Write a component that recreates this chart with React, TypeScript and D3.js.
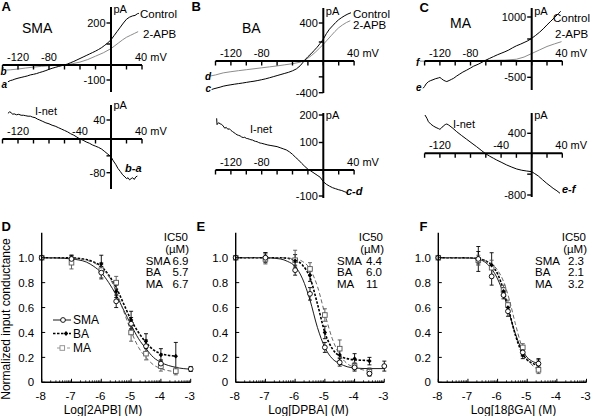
import React from 'react';
import * as d3 from 'd3';

const FONT = '"Liberation Sans", Arial, Helvetica, sans-serif';
const GRAY = '#8c8c8c';
const MAGRAY = '#555';

type P = [number, number];
type E = [number, number, number];

// ---------- I-V panels (mV, pA) ----------
const mvTicks = [-140, -120, -100, -80, -60, -40, -20, 0, 20, 40];

// A – SMA
const aControl: P[] = [[-133,-112],[-130,-104],[-127,-100],[-124,-94],[-120,-88],[-116,-83],[-112,-78],[-108,-73],[-104,-66],[-100,-62],[-96,-57],[-92,-50],[-88,-44],[-84,-37],[-80,-29],[-76,-22],[-72,-16],[-68,-10],[-64,-5],[-60,0],[-56,5],[-52,11],[-48,17],[-44,24],[-40,31],[-36,38],[-32,45],[-28,52],[-24,59],[-20,66],[-16,74],[-12,83],[-8,94],[-4,106],[0,120],[4,140],[8,160],[12,180],[16,200],[20,218],[24,228],[28,234],[31,236],[34,244],[36,246]];
const aApb: P[] = [[-135,-34],[-130,-32],[-120,-27],[-110,-20],[-100,-14],[-90,-9],[-80,-5],[-70,-2],[-60,0],[-50,6],[-40,14],[-30,26],[-20,42],[-10,58],[0,78],[5,92],[10,106],[15,120],[20,132],[25,141],[30,150],[35,159]];
const aNet: P[] = [[-133,54],[-131,57],[-129,56],[-127,52],[-125,53],[-122,51],[-119,52],[-116,50],[-113,50],[-110,49],[-107,48],[-104,48],[-101,46],[-98,45],[-95,42],[-92,40],[-88,37],[-84,34],[-80,32],[-76,29],[-72,27],[-68,24],[-64,21],[-60,18],[-56,15],[-52,11],[-48,8],[-44,4],[-40,0],[-36,-3],[-32,-7],[-28,-10],[-24,-14],[-20,-17],[-16,-20],[-12,-24],[-8,-30],[-4,-36],[0,-42],[3,-52],[6,-60],[9,-70],[12,-77],[15,-85],[18,-90],[20,-94],[22,-92],[24,-97],[26,-94],[28,-92],[30,-96],[32,-90],[34,-88]];

// B – BA
const bControl: P[] = [[-145,-360],[-142,-350],[-138,-340],[-134,-330],[-130,-318],[-125,-308],[-120,-300],[-115,-292],[-110,-285],[-105,-278],[-100,-270],[-95,-262],[-90,-255],[-85,-246],[-80,-236],[-75,-225],[-70,-212],[-65,-198],[-60,-184],[-55,-170],[-50,-156],[-45,-142],[-40,-124],[-35,-100],[-30,-60],[-27,-25],[-24,10],[-20,45],[-16,75],[-12,110],[-8,145],[-4,186],[0,230],[4,288],[8,335],[12,370],[16,405],[20,435],[24,458],[28,478],[32,495],[36,508]];
const bApb: P[] = [[-147,-190],[-140,-176],[-130,-150],[-120,-135],[-110,-122],[-100,-110],[-90,-98],[-80,-86],[-70,-74],[-60,-62],[-50,-48],[-40,-34],[-30,-15],[-24,8],[-20,30],[-15,60],[-10,95],[-5,135],[0,175],[5,220],[10,265],[15,310],[20,350],[25,380],[30,405],[35,424]];
const bNet: P[] = [[-138.5,188],[-138,165],[-136,172],[-134,168],[-132,166],[-130,160],[-128,152],[-126,155],[-124,148],[-122,150],[-120,144],[-118,140],[-116,136],[-114,132],[-112,128],[-110,126],[-108,124],[-106,120],[-104,118],[-102,119],[-100,115],[-98,114],[-96,112],[-94,110],[-92,109],[-90,106],[-88,104],[-86,103],[-84,100],[-82,98],[-80,97],[-76,94],[-72,91],[-68,89],[-64,87],[-60,85],[-56,81],[-52,77],[-48,73],[-44,66],[-40,57],[-36,46],[-32,36],[-28,24],[-24,13],[-20,3],[-16,-4],[-12,-12],[-8,-20],[-4,-28],[0,-45],[4,-55],[8,-62],[12,-68],[16,-72],[20,-76],[24,-79],[28,-84],[30,-86],[32,-94]];

// C – MA
const cControl: P[] = [[-142,-837],[-140,-780],[-138,-700],[-135,-635],[-132,-600],[-129,-575],[-126,-545],[-122,-520],[-120,-505],[-118,-540],[-115.6,-585],[-113,-615],[-111,-630],[-108,-600],[-105,-565],[-102,-530],[-98,-460],[-94,-400],[-90,-340],[-85,-280],[-80,-215],[-76,-160],[-70,-100],[-65,-40],[-61,10],[-55,60],[-50,100],[-45,140],[-40,175],[-35,210],[-30,250],[-25,300],[-20,345],[-15,380],[-10,420],[-5,460],[0,515],[5,580],[10,650],[15,730],[20,820],[25,905],[30,990],[35,1080],[38,1130]];
const cApb: P[] = [[-146,-5],[-130,0],[-110,3],[-90,6],[-70,10],[-50,15],[-35,20],[-20,40],[-10,90],[0,170],[10,250],[20,330],[30,390],[39,440]];
const cNet: P[] = [[-139.5,766],[-137,700],[-135,632],[-132,585],[-128.6,546],[-125,515],[-122,495],[-120,480],[-118,505],[-115.6,546],[-113,575],[-111,586],[-109,570],[-106.8,546],[-103,500],[-98,432],[-92,360],[-85,280],[-78,200],[-72,132],[-66,60],[-61,0],[-55,-55],[-50,-95],[-45.8,-129],[-40,-170],[-32.7,-224],[-26,-265],[-19.6,-301],[-13,-325],[-6.5,-340],[0,-353],[4,-390],[8.7,-436],[14,-505],[19.6,-576],[24,-625],[28,-672],[33,-720],[37,-767]];

// ---------- dose-response panels (log M, normalized conductance, error) ----------
const yTicksDR = [0, 0.2, 0.4, 0.6, 0.8, 1.0];
const xTicksDR = [-8, -7, -6, -5, -4, -3];
const seriesNames = ['SMA', 'BA', 'MA'];

// D – 2APB
const dSmaPts: E[] = [[-8,1,0],[-7,0.99,0.03],[-6,0.88,0.05],[-5.5,0.65,0.05],[-5,0.47,0.05],[-4.5,0.29,0.05],[-4,0.15,0.03],[-3,0.107,0.02]];
const dBaPts: E[] = [[-8,1,0],[-7,1.0,0.02],[-6,0.95,0.07],[-5.5,0.73,0.05],[-5,0.5,0.07],[-4.5,0.33,0.06],[-4,0.22,0.05],[-3.5,0.21,0.11]];
const dMaPts: E[] = [[-8,1,0],[-7,0.96,0.05],[-6,0.9,0.06],[-5.5,0.8,0.05],[-5,0.4,0.07],[-4.5,0.23,0.05],[-4,0.13,0.04],[-3.5,0.09,0.03]];
const dSmaFit: P[] = [[-8,1],[-7.5,0.998],[-7,0.99],[-6.5,0.965],[-6.25,0.93],[-6,0.88],[-5.75,0.8],[-5.5,0.7],[-5.25,0.58],[-5,0.46],[-4.75,0.35],[-4.5,0.27],[-4.25,0.2],[-4,0.16],[-3.5,0.12],[-3,0.105]];
const dBaFit: P[] = [[-8,1],[-7,0.998],[-6.5,0.985],[-6.25,0.965],[-6,0.93],[-5.75,0.86],[-5.5,0.76],[-5.25,0.63],[-5,0.5],[-4.75,0.4],[-4.5,0.32],[-4.25,0.26],[-4,0.23],[-3.5,0.21]];
const dMaFit: P[] = [[-8,1],[-7,0.995],[-6.5,0.98],[-6.25,0.96],[-6,0.92],[-5.75,0.85],[-5.5,0.73],[-5.25,0.57],[-5,0.41],[-4.75,0.28],[-4.5,0.2],[-4.25,0.14],[-4,0.11],[-3.5,0.085]];
const dIC50 = ['6.9', '5.7', '6.7'];

// E – DPBA
const eSmaPts: E[] = [[-8,1,0],[-7,1.0,0.04],[-6,0.9,0.04],[-5.5,0.71,0.05],[-5,0.28,0.04],[-4.5,0.16,0.03],[-4,0.12,0.03],[-3.5,0.07,0.02],[-3,0.13,0.04]];
const eBaPts: E[] = [[-8,1,0],[-7,1.01,0.03],[-6,0.975,0.05],[-5.5,0.86,0.05],[-5,0.4,0.05],[-4.5,0.22,0.05],[-4,0.19,0.04],[-3.5,0.17,0.03]];
const eMaPts: E[] = [[-8,1,0],[-7,0.99,0.04],[-6,0.98,0.08],[-5.5,0.91,0.05],[-5,0.54,0.05],[-4.5,0.27,0.07],[-4,0.13,0.03],[-3.5,0.085,0.03]];
const eSmaFit: P[] = [[-8,1],[-7,1],[-6.5,0.99],[-6.25,0.97],[-6,0.93],[-5.75,0.83],[-5.5,0.66],[-5.25,0.44],[-5,0.28],[-4.75,0.19],[-4.5,0.15],[-4.25,0.125],[-4,0.115],[-3.5,0.11],[-3,0.11]];
const eBaFit: P[] = [[-8,1],[-6.5,1.0],[-6,0.98],[-5.75,0.94],[-5.5,0.84],[-5.25,0.63],[-5,0.4],[-4.75,0.27],[-4.5,0.21],[-4.25,0.19],[-4,0.18],[-3.5,0.175]];
const eMaFit: P[] = [[-8,1],[-6.5,1],[-6,0.99],[-5.75,0.97],[-5.5,0.91],[-5.25,0.77],[-5,0.55],[-4.75,0.35],[-4.5,0.22],[-4.25,0.15],[-4,0.12],[-3.5,0.09]];
const eIC50 = ['4.4', '6.0', '11'];

// F – 18βGA
const fSmaPts: E[] = [[-8,1,0],[-6.65,0.99,0.1],[-6.2,0.85,0.07],[-5.8,0.7,0.03],[-5.65,0.57,0.04],[-5.15,0.24,0.03],[-4.62,0.15,0.03]];
const fBaPts: E[] = [[-8,1,0],[-6.65,1.0,0.05],[-6.2,0.94,0.1],[-5.8,0.73,0.03],[-5.65,0.6,0.03],[-5.15,0.22,0.03],[-4.62,0.14,0.05]];
const fMaPts: E[] = [[-8,1,0],[-6.65,0.98,0.04],[-6.2,0.92,0.06],[-5.8,0.74,0.04],[-5.65,0.62,0.04],[-5.15,0.28,0.03],[-4.62,0.1,0.03]];
const fSmaFit: P[] = [[-8,1],[-7,0.998],[-6.6,0.985],[-6.4,0.96],[-6.2,0.91],[-6,0.83],[-5.8,0.71],[-5.6,0.55],[-5.4,0.39],[-5.2,0.27],[-5,0.2],[-4.8,0.165],[-4.6,0.15]];
const fBaFit: P[] = [[-8,1],[-7,1],[-6.6,0.99],[-6.4,0.975],[-6.2,0.94],[-6,0.87],[-5.8,0.74],[-5.6,0.56],[-5.4,0.38],[-5.2,0.25],[-5,0.18],[-4.8,0.15],[-4.6,0.135]];
const fMaFit: P[] = [[-8,1],[-7,1],[-6.6,0.99],[-6.4,0.975],[-6.2,0.95],[-6,0.9],[-5.8,0.81],[-5.6,0.66],[-5.4,0.47],[-5.2,0.3],[-5,0.19],[-4.8,0.13],[-4.6,0.1]];
const fIC50 = ['2.3', '2.1', '3.2'];

// ---------- components ----------
type Trace = { data: P[]; color: string };
type IVProps = {
  xRange: [number, number];
  yDomain: number[];
  yRange: number[];
  yAxis: [number, number];
  yTicks: number[];
  yLabels: number[];
  xLabels: number[];
  traces: Trace[];
  pAy: number;
  children?: React.ReactNode;
};

function IVPanel(p: IVProps) {
  const x = d3.scaleLinear().domain([-140, 40]).range(p.xRange);
  const y = d3.scaleLinear().domain(p.yDomain).range(p.yRange);
  const x0 = x(0);
  const y0 = y(0);
  const line = d3.line<P>().x(d => x(d[0])).y(d => y(d[1]));
  return (
    <g>
      {p.traces.map((t, i) => (
        <path key={i} d={line(t.data) || ''} fill="none" stroke={t.color} strokeWidth={1} strokeLinejoin="round" />
      ))}
      <line x1={x(-140)} x2={x(40)} y1={y0} y2={y0} stroke="#000" strokeWidth={2} />
      {mvTicks.map(v => (
        <line key={v} x1={x(v)} x2={x(v)} y1={y0} y2={y0 + 4.5} stroke="#000" strokeWidth={1.4} />
      ))}
      <line x1={x0} x2={x0} y1={p.yAxis[0]} y2={p.yAxis[1]} stroke="#000" strokeWidth={2} />
      {p.yTicks.map(v => (
        <line key={v} x1={x0 - 4.5} x2={x0} y1={y(v)} y2={y(v)} stroke="#000" strokeWidth={1.4} />
      ))}
      {p.yLabels.map(v => (
        <text key={v} x={x0 - 5.5} y={y(v)} dy="0.36em" textAnchor="end" fontSize={11}>{v}</text>
      ))}
      {p.xLabels.map(v => (
        <text key={v} x={x(v)} y={y0 - 4.5} textAnchor="middle" fontSize={11}>{v}</text>
      ))}
      <text x={x(40) - 7} y={y0 - 4.5} fontSize={11}>40 mV</text>
      <text x={x0 + 2.5} y={p.pAy} fontSize={11}>pA</text>
      {p.children}
    </g>
  );
}

type DRProps = {
  xRange: [number, number];
  letter: string;
  letterX: number;
  title: string;
  titleX: number;
  ic50: string[];
  nameX: number;
  valX: number;
  icRight: number;
  fits: P[][];
  pts: E[][];
  legend?: boolean;
  yTitle?: boolean;
};

const fitStyles = [
  { stroke: '#000', width: 0.9, dash: undefined as string | undefined },
  { stroke: '#000', width: 1.6, dash: '2.5,1.5' },
  { stroke: MAGRAY, width: 0.9, dash: '4,2.5' },
];

function Marker({ kind, cx, cy }: { kind: number; cx: number; cy: number }) {
  if (kind === 0) return <circle cx={cx} cy={cy} r={2.4} fill="#fff" stroke="#000" strokeWidth={0.9} />;
  if (kind === 1)
    return <path d={`M${cx},${cy - 2.4}L${cx + 2.2},${cy}L${cx},${cy + 2.4}L${cx - 2.2},${cy}Z`} fill="#000" />;
  return <rect x={cx - 2.3} y={cy - 2.3} width={4.6} height={4.6} fill="#fff" stroke={MAGRAY} strokeWidth={0.9} />;
}

function DRPanel(p: DRProps) {
  const x = d3.scaleLinear().domain([-8, -3]).range(p.xRange);
  const y = d3.scaleLinear().domain([0, 1.2]).range([382.3, 232.8]);
  const line = d3.line<P>().x(d => x(d[0])).y(d => y(d[1])).curve(d3.curveMonotoneX);
  const ax = p.xRange[0];
  const minor: number[] = [];
  for (let dec = -8; dec < -3; dec++) for (let k = 2; k <= 9; k++) minor.push(dec + Math.log10(k));
  return (
    <g>
      <text x={p.letterX} y={230.5} fontSize={13} fontWeight="bold">{p.letter}</text>
      {p.fits.map((f, i) => (
        <path key={i} d={line(f) || ''} fill="none" stroke={fitStyles[i].stroke} strokeWidth={fitStyles[i].width} strokeDasharray={fitStyles[i].dash} />
      ))}
      {p.pts.map((s, i) => (
        <g key={i}>
          {s.filter(d => d[2] > 0).map((d, j) => {
            const cx = x(d[0]);
            const t = y(d[1] + d[2]);
            const b = y(d[1] - d[2]);
            return (
              <g key={j} stroke={i === 2 ? MAGRAY : '#000'} strokeWidth={0.9}>
                <line x1={cx} x2={cx} y1={t} y2={b} />
                <line x1={cx - 2} x2={cx + 2} y1={t} y2={t} />
                <line x1={cx - 2} x2={cx + 2} y1={b} y2={b} />
              </g>
            );
          })}
        </g>
      ))}
      {[2, 1, 0].map(i => (
        <g key={i}>{p.pts[i].map((d, j) => <Marker key={j} kind={i} cx={x(d[0])} cy={y(d[1])} />)}</g>
      ))}
      {/* axes */}
      <line x1={ax} x2={ax} y1={y(1.2)} y2={y(0)} stroke="#000" strokeWidth={1.4} />
      <line x1={ax} x2={p.xRange[1]} y1={y(0)} y2={y(0)} stroke="#000" strokeWidth={1.4} />
      {yTicksDR.map(v => (
        <g key={v}>
          <line x1={ax} x2={ax + 3.5} y1={y(v)} y2={y(v)} stroke="#000" strokeWidth={1} />
          <text x={ax - 7.5} y={y(v)} dy="0.36em" textAnchor="end" fontSize={11.5}>{v === 0 ? '0' : v.toFixed(1)}</text>
        </g>
      ))}
      {minor.map((v, i) => (
        <line key={i} x1={x(v)} x2={x(v)} y1={y(0)} y2={y(0) - 2} stroke="#000" strokeWidth={0.8} />
      ))}
      {xTicksDR.map(v => (
        <g key={v}>
          <line x1={x(v)} x2={x(v)} y1={y(0)} y2={y(0) - 3.5} stroke="#000" strokeWidth={1} />
          <text x={x(v) - 1} y={399.5} textAnchor="middle" fontSize={11.5}>{v}</text>
        </g>
      ))}
      <text x={p.titleX} y={414} textAnchor="middle" fontSize={12}>{p.title}</text>
      {/* IC50 block */}
      <text x={p.icRight} y={240.5} textAnchor="end" fontSize={11.5}>IC50</text>
      <text x={p.icRight + 1} y={252.5} textAnchor="end" fontSize={11.5}>(µM)</text>
      {seriesNames.map((n, i) => (
        <g key={n}>
          <text x={p.nameX} y={265 + i * 11.3} fontSize={11.5}>{n}</text>
          <text x={p.valX} y={265 + i * 11.3} fontSize={11.5}>{p.ic50[i]}</text>
        </g>
      ))}
      {p.yTitle && (
        <text transform="translate(9.5,319) rotate(-90)" textAnchor="middle" fontSize={12}>Normalized input conductance</text>
      )}
      {p.legend && (
        <g>
          <line x1={53} x2={71} y1={320} y2={320} stroke="#000" strokeWidth={0.9} />
          <Marker kind={0} cx={63} cy={320} />
          <text x={73} y={324} fontSize={12}>SMA</text>
          <line x1={53} x2={71} y1={333.5} y2={333.5} stroke="#000" strokeWidth={1.6} strokeDasharray="2.5,1.5" />
          <Marker kind={1} cx={66} cy={333.5} />
          <text x={73} y={337.5} fontSize={12}>BA</text>
          <line x1={57} x2={71} y1={348} y2={348} stroke={GRAY} strokeWidth={0.9} strokeDasharray="3,2" />
          <rect x={60} y={345.7} width={4.6} height={4.6} fill="#fff" stroke={GRAY} strokeWidth={0.9} />
          <text x={73} y={352} fontSize={12}>MA</text>
        </g>
      )}
    </g>
  );
}

export default function App() {
  return (
    <svg width={592} height={416} style={{ position: 'absolute', left: 0, top: 0, background: '#fff' }} fontFamily={FONT}>
      <rect width={592} height={416} fill="#fff" />
      {/* Panel A */}
      <text x={1.5} y={10.5} fontSize={13} fontWeight="bold">A</text>
      <text x={22} y={33} fontSize={14}>SMA</text>
      <IVPanel xRange={[2.5, 142]} yDomain={[-100, 0, 200]} yRange={[80, 65, 23]} yAxis={[7, 92]}
        yTicks={[200, 100, -100]} yLabels={[200, -100]} xLabels={[-120, -80]}
        traces={[{ data: aApb, color: GRAY }, { data: aControl, color: '#000' }]} pAy={13}>
        <text x={140} y={18} fontSize={11.5}>Control</text>
        <text x={143} y={38} fontSize={11.5}>2-APB</text>
        <text x={0.5} y={75} fontSize={10} fontStyle="italic" fontWeight="bold">b</text>
        <text x={1.5} y={88} fontSize={10} fontStyle="italic" fontWeight="bold">a</text>
      </IVPanel>
      <IVPanel xRange={[2.5, 142]} yDomain={[-80, 0, 40]} yRange={[172.7, 139, 120]} yAxis={[105, 189]}
        yTicks={[40, -40, -80]} yLabels={[40, -80]} xLabels={[-120, -40]}
        traces={[{ data: aNet, color: '#000' }]} pAy={109}>
        <text x={35} y={115} fontSize={11}>I-net</text>
        <text x={125} y={172} fontSize={11} fontStyle="italic" fontWeight="bold">b-a</text>
      </IVPanel>

      {/* Panel B */}
      <text x={191.5} y={10.5} fontSize={13} fontWeight="bold">B</text>
      <text x={242} y={33} fontSize={14}>BA</text>
      <IVPanel xRange={[215.5, 354.1]} yDomain={[-400, 0, 400]} yRange={[92.7, 61, 23]} yAxis={[8, 93]}
        yTicks={[400, 200, -200, -400]} yLabels={[400, -400]} xLabels={[-120, -80]}
        traces={[{ data: bApb, color: GRAY }, { data: bControl, color: '#000' }]} pAy={15}>
        <text x={353} y={18} fontSize={11.5}>Control</text>
        <text x={353} y={28.5} fontSize={11.5}>2-APB</text>
        <text x={205} y={80} fontSize={10} fontStyle="italic" fontWeight="bold">d</text>
        <text x={205.5} y={92} fontSize={10} fontStyle="italic" fontWeight="bold">c</text>
      </IVPanel>
      <IVPanel xRange={[215.5, 354.1]} yDomain={[-100, 0, 200]} yRange={[196, 170, 115]} yAxis={[113, 198]}
        yTicks={[200, 100, -100]} yLabels={[200, 100, -100]} xLabels={[-120, -80]}
        traces={[{ data: bNet, color: '#000' }]} pAy={119}>
        <text x={250} y={133} fontSize={11}>I-net</text>
        <text x={346} y={195} fontSize={11} fontStyle="italic" fontWeight="bold">c-d</text>
      </IVPanel>

      {/* Panel C */}
      <text x={419.5} y={11.5} fontSize={13} fontWeight="bold">C</text>
      <text x={450} y={28} fontSize={14}>MA</text>
      <IVPanel xRange={[424.6, 562.3]} yDomain={[-500, 0, 1000]} yRange={[77.3, 61, 17]} yAxis={[8, 90]}
        yTicks={[1000, 500, -500]} yLabels={[1000, -500]} xLabels={[-120, -80]}
        traces={[{ data: cApb, color: GRAY }, { data: cControl, color: '#000' }]} pAy={15}>
        <text x={553} y={22} fontSize={11.5}>Control</text>
        <text x={555} y={38} fontSize={11.5}>2-APB</text>
        <text x={416} y={66} fontSize={10} fontStyle="italic" fontWeight="bold">f</text>
        <text x={416} y={91} fontSize={10} fontStyle="italic" fontWeight="bold">e</text>
      </IVPanel>
      <IVPanel xRange={[424.6, 562.3]} yDomain={[-800, 0, 400]} yRange={[195, 153.3, 133.3]} yAxis={[113, 197]}
        yTicks={[400, -400, -800]} yLabels={[400, -800]} xLabels={[-120, -40]}
        traces={[{ data: cNet, color: '#000' }]} pAy={119}>
        <text x={453} y={128} fontSize={11}>I-net</text>
        <text x={562} y={193} fontSize={11} fontStyle="italic" fontWeight="bold">e-f</text>
      </IVPanel>

      {/* Panels D, E, F */}
      <DRPanel xRange={[41.7, 190.7]} letter="D" letterX={1.5} title="Log[2APB] (M)" titleX={103}
        ic50={dIC50} nameX={145.7} valX={172.5} icRight={188}
        fits={[dSmaFit, dBaFit, dMaFit]} pts={[dSmaPts, dBaPts, dMaPts]} legend yTitle />
      <DRPanel xRange={[235.7, 384.3]} letter="E" letterX={196.5} title="Log[DPBA] (M)" titleX={308.5}
        ic50={eIC50} nameX={337} valX={366} icRight={383}
        fits={[eSmaFit, eBaFit, eMaFit]} pts={[eSmaPts, eBaPts, eMaPts]} />
      <DRPanel xRange={[438.3, 586.5]} letter="F" letterX={419.5} title="Log[18βGA] (M)" titleX={513.5}
        ic50={fIC50} nameX={535} valX={568} icRight={586}
        fits={[fSmaFit, fBaFit, fMaFit]} pts={[fSmaPts, fBaPts, fMaPts]} />
    </svg>
  );
}
